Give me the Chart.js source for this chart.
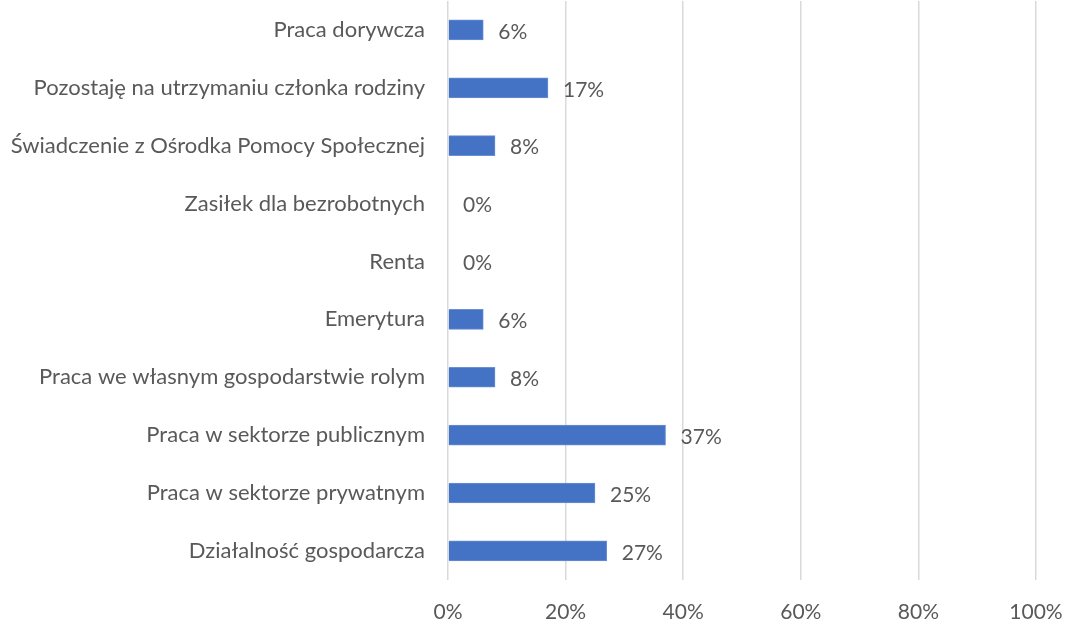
<!DOCTYPE html>
<html>
<head>
<meta charset="utf-8">
<script src="https://cdn.jsdelivr.net/npm/chart.js@4"></script>
<style>
  html, body { margin: 0; padding: 0; background: #fff; }
  #wrap { width: 1066px; height: 621px; }
</style>
</head>
<body>
<div id="wrap"><canvas id="chart"></canvas></div>
<script>
const categories = [
  'Praca dorywcza',
  'Pozostaję na utrzymaniu członka rodziny',
  'Świadczenie z Ośrodka Pomocy Społecznej',
  'Zasiłek dla bezrobotnych',
  'Renta',
  'Emerytura',
  'Praca we własnym gospodarstwie rolym',
  'Praca w sektorze publicznym',
  'Praca w sektorze prywatnym',
  'Działalność gospodarcza'
];
const shares = [6, 17, 8, 0, 0, 6, 8, 37, 25, 27];
const xTicks = [0, 20, 40, 60, 80, 100];

const FONT = "Lato, 'Open Sans', sans-serif";
const TEXT = '#595959';

// draws "NN%" just right of each bar end
const valueLabels = {
  id: 'valueLabels',
  afterDatasetsDraw(chart) {
    const ctx = chart.ctx;
    const meta = chart.getDatasetMeta(0);
    ctx.save();
    ctx.font = '21px ' + FONT;
    ctx.fillStyle = TEXT;
    ctx.textAlign = 'left';
    ctx.textBaseline = 'middle';
    meta.data.forEach((bar, i) => {
      ctx.fillText(shares[i] + '%', bar.x + 15, bar.y + 2);
    });
    ctx.restore();
  }
};

new Chart(document.getElementById('chart'), {
  type: 'bar',
  data: {
    labels: categories,
    datasets: [{
      data: shares,
      backgroundColor: '#4472C4',
      borderColor: '#6a8fd3',
      borderWidth: 1,
      barThickness: 20
    }]
  },
  options: {
    indexAxis: 'y',
    responsive: true,
    maintainAspectRatio: false,
    animation: false,
    layout: { autoPadding: false, padding: { top: 1, right: 30, bottom: -24, left: 0 } },
    plugins: {
      legend: { display: false },
      tooltip: { enabled: false }
    },
    scales: {
      x: {
        min: 0,
        max: 100,
        afterBuildTicks: (scale) => { scale.ticks = xTicks.map(v => ({ value: v })); },
        // keep the plot edges fixed, label overhang is handled by layout padding
        afterFit: (scale) => { scale.paddingLeft = 0; scale.paddingRight = 0; },
        ticks: {
          callback: (v) => v + '%',
          color: TEXT,
          font: { family: FONT, size: 21 },
          padding: 20,
          maxRotation: 0
        },
        grid: { color: '#d9d9d9', lineWidth: 1.5, drawTicks: false },
        border: { display: false }
      },
      y: {
        afterFit: (scale) => { scale.width = 448; scale.paddingTop = 0; scale.paddingBottom = 0; },
        ticks: {
          color: TEXT,
          font: { family: FONT, size: 22 },
          padding: 23
        },
        grid: { display: false, drawTicks: false },
        border: { display: false }
      }
    }
  },
  plugins: [valueLabels]
});
</script>
</body>
</html>
